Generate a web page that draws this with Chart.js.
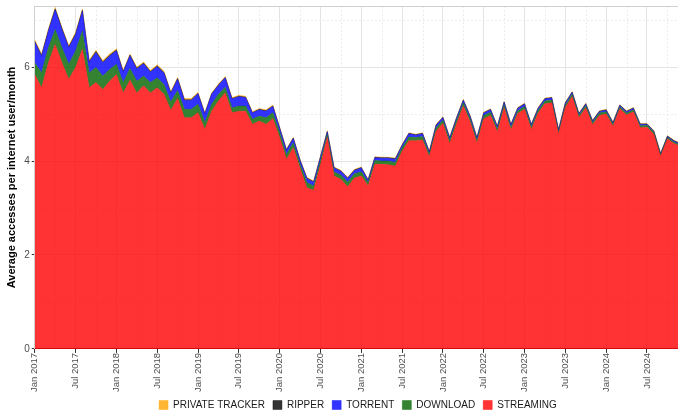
<!DOCTYPE html>
<html>
<head>
<meta charset="utf-8">
<script src="https://cdn.jsdelivr.net/npm/chart.js"></script>
<style>
  html, body { margin: 0; padding: 0; background: #fff; overflow: hidden; }
  #wrap { width: 678px; height: 412px; overflow: hidden; }
</style>
</head>
<body>
<div id="wrap"><canvas id="myChart" width="681" height="412"></canvas></div>
<script>
// month labels, Jan 2017 .. Dec 2024
const years = [2017, 2018, 2019, 2020, 2021, 2022, 2023, 2024];
const monthNames = ['Jan', 'Feb', 'Mar', 'Apr', 'May', 'Jun', 'Jul', 'Aug', 'Sep', 'Oct', 'Nov', 'Dec'];
const labels = [];
years.forEach(y => monthNames.forEach(m => labels.push(m + ' ' + y)));

// average accesses per internet user / month, by type
const streaming = [
  5.84, 5.56, 6.09, 6.48, 6.09, 5.74, 5.99, 6.38, 5.56, 5.67, 5.52, 5.70,
  5.84, 5.45, 5.72, 5.45, 5.60, 5.45, 5.56, 5.42, 5.08, 5.33, 4.92, 4.92,
  5.03, 4.67, 5.06, 5.28, 5.45, 5.03, 5.06, 5.06, 4.78, 4.85, 4.78, 4.90,
  4.50, 4.04, 4.28, 3.84, 3.43, 3.38, 3.92, 4.50, 3.68, 3.61, 3.45, 3.64,
  3.68, 3.47, 3.93, 3.93, 3.92, 3.89, 4.21, 4.43, 4.43, 4.45, 4.09, 4.64,
  4.80, 4.37, 4.79, 5.17, 4.83, 4.38, 4.90, 4.97, 4.62, 5.13, 4.66, 5.01,
  5.10, 4.67, 5.02, 5.22, 5.24, 4.57, 5.14, 5.37, 4.92, 5.13, 4.77, 4.97,
  5.00, 4.74, 5.11, 4.98, 5.05, 4.71, 4.72, 4.57, 4.10, 4.47, 4.37, 4.31
];
const download = [
  0.25, 0.32, 0.32, 0.32, 0.32, 0.32, 0.35, 0.39, 0.32, 0.32, 0.29, 0.25,
  0.22, 0.22, 0.25, 0.25, 0.21, 0.22, 0.21, 0.21, 0.18, 0.17, 0.18, 0.18,
  0.18, 0.15, 0.15, 0.14, 0.12, 0.10, 0.11, 0.11, 0.11, 0.11, 0.14, 0.13,
  0.11, 0.10, 0.11, 0.09, 0.11, 0.09, 0.09, 0.07, 0.09, 0.09, 0.10, 0.09,
  0.09, 0.07, 0.08, 0.07, 0.08, 0.08, 0.07, 0.08, 0.07, 0.07, 0.06, 0.07,
  0.07, 0.07, 0.07, 0.07, 0.07, 0.06, 0.07, 0.07, 0.06, 0.07, 0.06, 0.06,
  0.06, 0.06, 0.06, 0.06, 0.06, 0.05, 0.05, 0.05, 0.05, 0.05, 0.05, 0.05,
  0.05, 0.04, 0.04, 0.04, 0.04, 0.04, 0.04, 0.04, 0.03, 0.03, 0.03, 0.03
];
const torrent = [
  0.44, 0.35, 0.35, 0.42, 0.39, 0.35, 0.35, 0.42, 0.22, 0.32, 0.28, 0.28,
  0.29, 0.22, 0.27, 0.26, 0.26, 0.22, 0.24, 0.24, 0.18, 0.24, 0.19, 0.19,
  0.22, 0.18, 0.21, 0.19, 0.20, 0.19, 0.20, 0.18, 0.13, 0.13, 0.14, 0.13,
  0.09, 0.09, 0.09, 0.08, 0.09, 0.08, 0.07, 0.05, 0.08, 0.08, 0.08, 0.07,
  0.08, 0.05, 0.06, 0.06, 0.06, 0.07, 0.05, 0.07, 0.05, 0.06, 0.04, 0.05,
  0.05, 0.05, 0.05, 0.05, 0.05, 0.05, 0.05, 0.05, 0.05, 0.05, 0.05, 0.05,
  0.05, 0.04, 0.04, 0.04, 0.04, 0.04, 0.04, 0.04, 0.03, 0.03, 0.03, 0.03,
  0.03, 0.03, 0.03, 0.03, 0.03, 0.03, 0.02, 0.02, 0.02, 0.02, 0.02, 0.02
];
const ripper = [
  0.02, 0.02, 0.02, 0.02, 0.02, 0.02, 0.02, 0.02, 0.02, 0.02, 0.02, 0.02,
  0.015, 0.015, 0.015, 0.015, 0.015, 0.015, 0.015, 0.015, 0.015, 0.015, 0.015, 0.015,
  0.01, 0.01, 0.01, 0.01, 0.01, 0.01, 0.01, 0.01, 0.01, 0.01, 0.01, 0.01,
  0.01, 0.01, 0.01, 0.01, 0.01, 0.01, 0.01, 0.01, 0.01, 0.01, 0.01, 0.01,
  0.01, 0.01, 0.01, 0.01, 0.01, 0.01, 0.01, 0.01, 0.01, 0.01, 0.01, 0.01,
  0.01, 0.01, 0.01, 0.01, 0.01, 0.01, 0.01, 0.01, 0.01, 0.01, 0.01, 0.01,
  0.01, 0.01, 0.01, 0.01, 0.01, 0.01, 0.01, 0.01, 0.01, 0.01, 0.01, 0.01,
  0.01, 0.01, 0.01, 0.01, 0.01, 0.01, 0.01, 0.01, 0.01, 0.01, 0.01, 0.01
];
const privateTracker = [
  0.03, 0.03, 0.03, 0.03, 0.03, 0.03, 0.03, 0.03, 0.03, 0.03, 0.03, 0.03,
  0.025, 0.025, 0.025, 0.025, 0.025, 0.025, 0.025, 0.025, 0.025, 0.025, 0.025, 0.025,
  0.02, 0.02, 0.02, 0.02, 0.02, 0.02, 0.02, 0.02, 0.02, 0.02, 0.02, 0.02,
  0.015, 0.015, 0.015, 0.015, 0.015, 0.015, 0.015, 0.015, 0.015, 0.015, 0.015, 0.015,
  0.012, 0.012, 0.012, 0.012, 0.012, 0.012, 0.012, 0.012, 0.012, 0.012, 0.012, 0.012,
  0.01, 0.01, 0.01, 0.01, 0.01, 0.01, 0.01, 0.01, 0.01, 0.01, 0.01, 0.01,
  0.01, 0.01, 0.01, 0.01, 0.01, 0.01, 0.01, 0.01, 0.01, 0.01, 0.01, 0.01,
  0.01, 0.01, 0.01, 0.01, 0.01, 0.01, 0.01, 0.01, 0.01, 0.01, 0.01, 0.01
];

const FONT = '"Liberation Sans", Arial, sans-serif';

function layer(label, data, color, fill) {
  return {
    label: label,
    data: data,
    backgroundColor: color,
    borderColor: color,
    borderWidth: 0.5,
    pointRadius: 0,
    pointHoverRadius: 0,
    tension: 0,
    fill: fill
  };
}

// dashed minor grid lines + panel border, legend centred on the panel
const minorGrid = {
  id: 'minorGrid',
  afterLayout(chart) {
    const lg = chart.legend;
    lg.left = chart.chartArea.left;
    lg.right = chart.chartArea.right;
  },
  beforeDatasetsDraw(chart) {
    const ctx = chart.ctx;
    const area = chart.chartArea;
    const x = chart.scales.x;
    const y = chart.scales.y;
    ctx.save();
    ctx.strokeStyle = '#ececec';
    ctx.lineWidth = 1;
    ctx.setLineDash([2, 2]);
    labels.forEach((l, i) => {
      if (i % 6 === 3) {
        const px = Math.round(x.getPixelForValue(i)) + 0.5;
        ctx.beginPath();
        ctx.moveTo(px, area.top);
        ctx.lineTo(px, area.bottom);
        ctx.stroke();
      }
    });
    [1, 3, 5, 7].forEach(v => {
      const py = Math.round(y.getPixelForValue(v)) + 0.5;
      ctx.beginPath();
      ctx.moveTo(area.left, py);
      ctx.lineTo(area.right, py);
      ctx.stroke();
    });
    ctx.setLineDash([]);
    ctx.strokeStyle = '#d0d0d0';
    ctx.beginPath();
    ctx.moveTo(area.left, area.top + 0.5);
    ctx.lineTo(area.right, area.top + 0.5);
    ctx.stroke();
    ctx.restore();
  }
};

var ctx = document.getElementById('myChart').getContext('2d');
var myChart = new Chart(ctx, {
  type: 'line',
  data: {
    labels: labels,
    datasets: [
      layer('STREAMING', streaming, 'rgba(255, 0, 0, 0.8)', 'origin'),
      layer('DOWNLOAD', download, 'rgba(0, 100, 0, 0.8)', '-1'),
      layer('TORRENT', torrent, 'rgba(0, 0, 255, 0.8)', '-1'),
      layer('RIPPER', ripper, 'rgba(0, 0, 0, 0.8)', '-1'),
      layer('PRIVATE TRACKER', privateTracker, 'rgba(255, 165, 0, 0.8)', '-1')
    ]
  },
  plugins: [minorGrid],
  options: {
    responsive: false,
    animation: false,
    layout: { padding: { top: 6, right: 0, left: 5, bottom: 0 } },
    plugins: {
      legend: {
        position: 'bottom',
        reverse: true,
        maxHeight: 20,
        labels: {
          boxWidth: 9,
          boxHeight: 9,
          padding: 8,
          color: '#1a1a1a',
          font: { family: FONT, size: 10 }
        }
      },
      tooltip: { enabled: false }
    },
    scales: {
      x: {
        offset: false,
        afterFit: function (s) {
          s.paddingRight = 0;
          s.paddingLeft = 0;
        },
        grid: {
          color: c => (c.index % 6 === 0 ? '#e4e4e4' : 'rgba(0,0,0,0)'),
          tickColor: c => (c.index % 6 === 0 ? '#333' : 'rgba(0,0,0,0)'),
          tickLength: 4
        },
        border: { color: '#333', width: 1 },
        ticks: {
          autoSkip: false,
          maxRotation: 90,
          minRotation: 90,
          padding: 0,
          color: '#4d4d4d',
          font: { family: FONT, size: 9.5 },
          callback: function (value, index) {
            return index % 6 === 0 ? labels[index] : '';
          }
        }
      },
      y: {
        stacked: true,
        min: 0,
        max: 7.3,
        afterFit: function (s) {
          s.paddingTop = 0;
        },
        grid: {
          color: c => (c.tick && c.tick.value % 2 === 0 ? '#e4e4e4' : 'rgba(0,0,0,0)'),
          tickColor: c => (c.tick && c.tick.value % 2 === 0 ? '#333' : 'rgba(0,0,0,0)'),
          tickLength: 3
        },
        border: { color: '#d0d0d0', width: 1 },
        ticks: {
          stepSize: 1,
          padding: 2,
          color: '#4d4d4d',
          font: { family: FONT, size: 10 },
          callback: function (value) {
            return value % 2 === 0 ? value : '';
          }
        },
        title: {
          display: true,
          text: 'Average accesses per internet user/month',
          color: '#000',
          padding: { top: 0, bottom: 4 },
          font: { family: FONT, size: 11, weight: 'bold' }
        }
      }
    }
  }
});
</script>
</body>
</html>
